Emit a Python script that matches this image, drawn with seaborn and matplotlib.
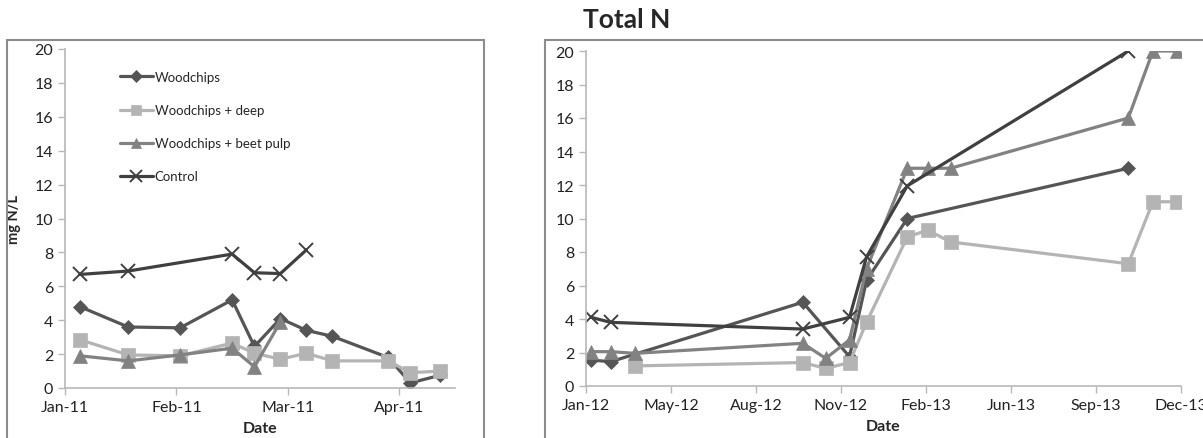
import pandas as pd
import seaborn as sns
import matplotlib.pyplot as plt
import matplotlib.dates as mdates
from matplotlib.patches import Rectangle

# ---- data: 2011 (left panel) ----
left_dates = ["2011-01-14", "2011-01-27", "2011-02-10", "2011-02-24", "2011-03-02",
              "2011-03-09", "2011-03-16", "2011-03-23", "2011-04-07", "2011-04-13",
              "2011-04-21"]
left_woodchips = [4.8, 3.6, 3.55, 5.2, 2.45, 4.1, 3.4, 3.05, 1.8, 0.3, 0.75]
left_deep = [2.85, 1.95, 1.9, 2.65, 2.05, 1.7, 2.05, 1.6, 1.6, 0.9, 1.0]
left_beet = [1.9, 1.6, 1.95, 2.35, 1.25, 3.9, None, None, None, None, None]
left_control = [6.7, 6.9, None, 7.9, 6.8, 6.75, 8.15, None, None, None, None]
left_ticks = ["2011-01-10", "2011-02-09", "2011-03-11", "2011-04-10"]

# ---- data: 2012-2013 (right panel, Total N) ----
right_dates = ["2012-01-29", "2012-02-21", "2012-03-21", "2012-10-04", "2012-10-31",
               "2012-11-28", "2012-12-18", "2013-02-04", "2013-02-28", "2013-03-27",
               "2013-10-22", "2013-11-20", "2013-12-18"]
right_woodchips = [1.55, 1.45, None, 5.0, None, 1.75, 6.3, 10.0, None, None, 13.0, None, None]
right_deep = [None, None, 1.2, 1.4, 1.05, 1.4, 3.8, 8.9, 9.3, 8.6, 7.3, 11.0, 11.0]
right_beet = [2.05, 2.05, 1.95, 2.55, 1.65, 2.75, 7.0, 13.0, 13.0, 13.0, 16.0, 20.0, 20.0]
right_control = [4.1, 3.8, None, 3.4, None, 4.1, 7.7, 11.95, None, None, 20.0, None, None]
right_ticks = ["2012-01-23", "2012-05-02", "2012-08-10", "2012-11-18",
               "2013-02-26", "2013-06-06", "2013-09-14", "2013-12-23"]

series_names = ["Woodchips", "Woodchips + deep", "Woodchips + beet pulp", "Control"]
colors = ["#555555", "#b4b4b4", "#828282", "#404040"]
markers = ["D", "s", "^", "x"]
msizes = [7.5, 9.5, 9.5, 10]

sns.set_style("white")
plt.rcParams['font.family'] = ['Lato', 'DejaVu Sans']

fig = plt.figure(figsize=(12.03, 4.39), dpi=100)
W, H = 1203, 439


def px_axes(x0, y_top, x1, y_bot):
    return fig.add_axes([x0 / W, 1 - y_bot / H, (x1 - x0) / W, (y_bot - y_top) / H])


# panel frames
for (fx0, fy0, fx1) in [(7, 41, 484), (545, 41, 1215)]:
    fig.patches.append(Rectangle((fx0 / W, -0.1), (fx1 - fx0) / W, 1.1 - fy0 / H,
                                 transform=fig.transFigure, fill=False,
                                 edgecolor="#8c8c8c", linewidth=1.5))

ax1 = px_axes(65, 50, 455, 389)
ax2 = px_axes(586, 52, 1181, 387)


def draw(ax, dates, values_list, ticks, xmax_days):
    dts = pd.to_datetime(dates)
    for name, vals, c, m, ms in zip(series_names, values_list, colors, markers, msizes):
        df = pd.DataFrame({"date": dts, "value": vals}).dropna()
        sns.lineplot(data=df, x="date", y="value", ax=ax, color=c, marker=m,
                     markersize=ms, markeredgecolor=c, markeredgewidth=1.4 if m == "x" else 0.5,
                     linewidth=2.3, label=name, estimator=None, sort=True)
    t = pd.to_datetime(ticks)
    ax.set_xlim(t[0], t[0] + pd.Timedelta(days=xmax_days))
    ax.set_xticks(t)
    ax.xaxis.set_major_formatter(mdates.DateFormatter("%b-%y"))
    ax.set_ylim(0, 20)
    ax.set_yticks(range(0, 21, 2))
    for s in ["top", "right"]:
        ax.spines[s].set_visible(False)
    for s in ["left", "bottom"]:
        ax.spines[s].set_color("#b8b8b8")
        ax.spines[s].set_linewidth(1.2)
    ax.tick_params(axis="both", direction="out", length=5, width=1, color="#b8b8b8",
                   labelsize=11.5, labelcolor="#222222", left=True, bottom=True)
    ax.set_xlabel("Date", fontsize=11.5, fontweight="bold", labelpad=5)
    ax.set_ylabel("")
    ax.patch.set_alpha(0)


draw(ax1, left_dates, [left_woodchips, left_deep, left_beet, left_control], left_ticks, 105)
draw(ax2, right_dates, [right_woodchips, right_deep, right_beet, right_control], right_ticks, 700)

ax1.set_ylabel("mg N/L", fontsize=10.5, fontweight="bold", labelpad=10)
ax2.get_legend().remove()

handles, labels = ax1.get_legend_handles_labels()
ax1.legend(handles, labels, loc="upper left", bbox_to_anchor=(0.14, 0.935),
           frameon=False, fontsize=9.5, labelspacing=1.6, handlelength=2.5,
           handletextpad=0.15, borderaxespad=0, borderpad=0, markerscale=0.8)

fig.text(627 / W, 1 - 20 / H, "Total N", ha="center", va="center",
         fontsize=19, fontweight="bold")

fig.savefig("out.png", dpi=100)
